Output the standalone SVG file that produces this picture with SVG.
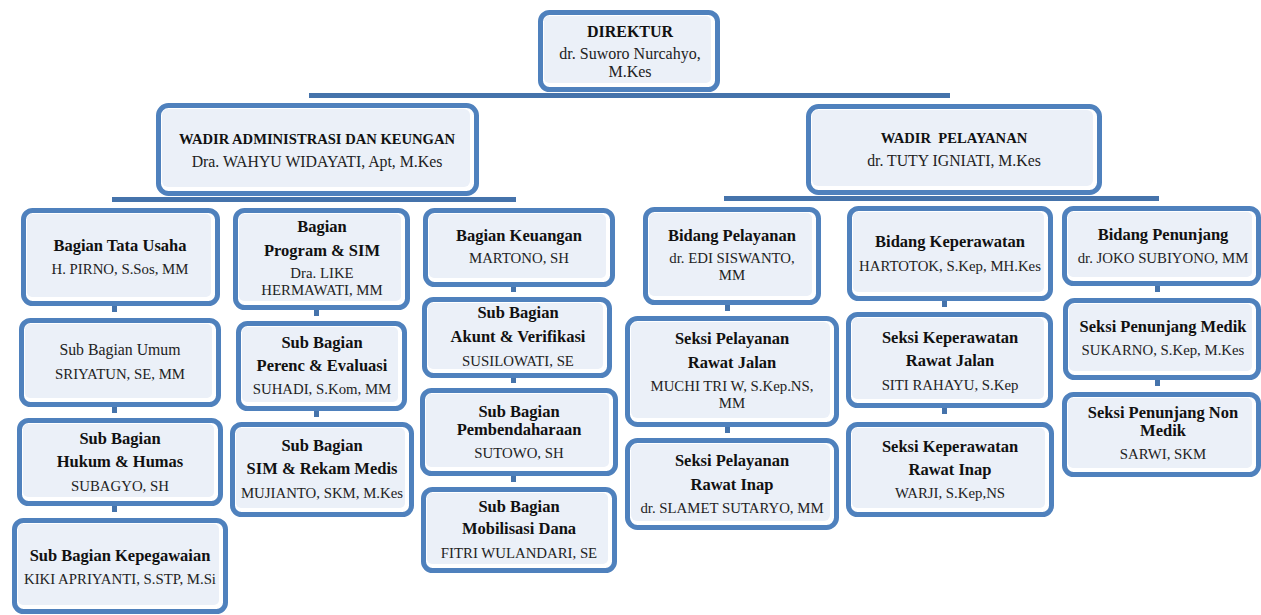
<svg xmlns="http://www.w3.org/2000/svg" width="1261" height="615" viewBox="0 0 1261 615">
<style>
.box{fill:#ffffff;stroke:#4F81BD;stroke-width:5}
.in{fill:#EBF0F8}
text{font-family:"Liberation Serif","Times New Roman",serif;text-anchor:middle}
.b{font-weight:bold;font-size:16.5px;fill:#111}
.r{font-size:14.8px;fill:#222}
.r16{font-size:15.8px;fill:#222}
.tb{font-weight:bold;font-size:14.6px;fill:#111;white-space:pre}
.tr{font-size:15.8px;fill:#222}
.db{font-weight:bold;font-size:16px;fill:#111}
.dr{font-size:16px;fill:#222}
.bar{fill:#4573AB}
.stub{fill:#4573AB}
</style>
<g id="connectors">
<rect class="bar" x="309" y="93" width="641" height="5"/>
<rect class="bar" x="112" y="197" width="404" height="5"/>
<rect class="bar" x="724" y="196" width="435" height="5"/>
<rect class="stub" x="112" y="306" width="5" height="6"/>
<rect class="stub" x="112" y="407" width="5" height="6"/>
<rect class="stub" x="112" y="506" width="5" height="6"/>
<rect class="stub" x="314" y="310" width="5" height="6"/>
<rect class="stub" x="314" y="411" width="5" height="6"/>
<rect class="stub" x="511" y="287" width="5" height="5"/>
<rect class="stub" x="511" y="378" width="5" height="5"/>
<rect class="stub" x="511" y="476" width="5" height="6"/>
<rect class="stub" x="725" y="305" width="5" height="6"/>
<rect class="stub" x="725" y="427" width="5" height="6"/>
<rect class="stub" x="942" y="301" width="5" height="6"/>
<rect class="stub" x="942" y="408" width="5" height="6"/>
<rect class="stub" x="1155" y="286" width="5" height="6"/>
<rect class="stub" x="1155" y="380" width="5" height="6"/>
</g>
<g id="direktur">
<rect class="box" x="540.5" y="12.5" width="177" height="77" rx="9"/>
<rect class="in" x="544" y="16" width="167" height="67" rx="5"/>
<text class="db" x="630" y="37">DIREKTUR</text>
<text class="dr" x="630" y="59">dr. Suworo Nurcahyo,</text>
<text class="dr" x="630" y="77">M.Kes</text>
</g>
<g id="wadir-adm">
<rect class="box" x="158.5" y="105.5" width="318" height="88" rx="10"/>
<rect class="in" x="162" y="109" width="308" height="78" rx="6"/>
<text class="tb" x="317" y="144">WADIR ADMINISTRASI DAN KEUNGAN</text>
<text class="tr" x="317" y="167">Dra. WAHYU WIDAYATI, Apt, M.Kes</text>
</g>
<g id="wadir-pel">
<rect class="box" x="808.5" y="106.5" width="291" height="86" rx="10"/>
<rect class="in" x="812" y="110" width="281" height="76" rx="6"/>
<text class="tb" x="954" y="143">WADIR  PELAYANAN</text>
<text class="tr" x="954" y="166">dr. TUTY IGNIATI, M.Kes</text>
</g>
<g id="tata-usaha">
<rect class="box" x="23.5" y="210.5" width="194" height="93" rx="9"/>
<rect class="in" x="27" y="214" width="184" height="83" rx="5"/>
<text class="b" x="120" y="251">Bagian Tata Usaha</text>
<text class="r" x="120" y="274">H. PIRNO, S.Sos, MM</text>
</g>
<g id="sub-umum">
<rect class="box" x="21.5" y="320.5" width="197" height="84" rx="9"/>
<rect class="in" x="25" y="324" width="187" height="74" rx="5"/>
<text class="r16" x="120" y="355">Sub Bagian Umum</text>
<text class="r" x="120" y="379">SRIYATUN, SE, MM</text>
</g>
<g id="sub-hukum">
<rect class="box" x="19.5" y="420.5" width="201" height="83" rx="9"/>
<rect class="in" x="23" y="424" width="191" height="73" rx="5"/>
<text class="b" x="120" y="444">Sub Bagian</text>
<text class="b" x="120" y="467">Hukum &amp; Humas</text>
<text class="r" x="120" y="491">SUBAGYO, SH</text>
</g>
<g id="sub-kepeg">
<rect class="box" x="14.5" y="520.5" width="211" height="91" rx="9"/>
<rect class="in" x="18" y="524" width="201" height="81" rx="5"/>
<text class="b" x="120" y="561">Sub Bagian Kepegawaian</text>
<text class="r" x="120" y="584">KIKI APRIYANTI, S.STP, M.Si</text>
</g>
<g id="program-sim">
<rect class="box" x="235.5" y="210.5" width="172" height="97" rx="9"/>
<rect class="in" x="239" y="214" width="162" height="87" rx="5"/>
<text class="b" x="322" y="232">Bagian</text>
<text class="b" x="322" y="256">Program &amp; SIM</text>
<text class="r" x="322" y="278">Dra. LIKE</text>
<text class="r" x="322" y="295">HERMAWATI, MM</text>
</g>
<g id="sub-perenc">
<rect class="box" x="238.5" y="323.5" width="166" height="85" rx="9"/>
<rect class="in" x="242" y="327" width="156" height="75" rx="5"/>
<text class="b" x="322" y="348">Sub Bagian</text>
<text class="b" x="322" y="371">Perenc &amp; Evaluasi</text>
<text class="r" x="322" y="394">SUHADI, S.Kom, MM</text>
</g>
<g id="sub-sim">
<rect class="box" x="232.5" y="424.5" width="179" height="90" rx="9"/>
<rect class="in" x="236" y="428" width="169" height="80" rx="5"/>
<text class="b" x="322" y="451">Sub Bagian</text>
<text class="b" x="322" y="474">SIM &amp; Rekam Medis</text>
<text class="r" x="322" y="498">MUJIANTO, SKM, M.Kes</text>
</g>
<g id="keuangan">
<rect class="box" x="425.5" y="210.5" width="187" height="74" rx="9"/>
<rect class="in" x="429" y="214" width="177" height="64" rx="5"/>
<text class="b" x="519" y="241">Bagian Keuangan</text>
<text class="r" x="519" y="263">MARTONO, SH</text>
</g>
<g id="sub-akunt">
<rect class="box" x="424.5" y="299.5" width="185" height="76" rx="9"/>
<rect class="in" x="428" y="303" width="175" height="66" rx="5"/>
<text class="b" x="518" y="318">Sub Bagian</text>
<text class="b" x="518" y="342">Akunt &amp; Verifikasi</text>
<text class="r" x="518" y="366">SUSILOWATI, SE</text>
</g>
<g id="sub-pembend">
<rect class="box" x="422.5" y="390.5" width="193" height="83" rx="9"/>
<rect class="in" x="426" y="394" width="183" height="73" rx="5"/>
<text class="b" x="519" y="417">Sub Bagian</text>
<text class="b" x="519" y="435">Pembendaharaan</text>
<text class="r" x="519" y="458">SUTOWO, SH</text>
</g>
<g id="sub-mobil">
<rect class="box" x="423.5" y="489.5" width="191" height="81" rx="9"/>
<rect class="in" x="427" y="493" width="181" height="71" rx="5"/>
<text class="b" x="519" y="512">Sub Bagian</text>
<text class="b" x="519" y="534">Mobilisasi Dana</text>
<text class="r" x="519" y="558">FITRI WULANDARI, SE</text>
</g>
<g id="bidang-pelayanan">
<rect class="box" x="645.5" y="209.5" width="173" height="93" rx="9"/>
<rect class="in" x="649" y="213" width="163" height="83" rx="5"/>
<text class="b" x="732" y="241">Bidang Pelayanan</text>
<text class="r" x="732" y="263">dr. EDI SISWANTO,</text>
<text class="r" x="732" y="280">MM</text>
</g>
<g id="seksi-pel-rj">
<rect class="box" x="627.5" y="318.5" width="209" height="106" rx="10"/>
<rect class="in" x="631" y="322" width="199" height="96" rx="6"/>
<text class="b" x="732" y="344">Seksi Pelayanan</text>
<text class="b" x="732" y="368">Rawat Jalan</text>
<text class="r" x="732" y="391">MUCHI TRI W, S.Kep.NS,</text>
<text class="r" x="732" y="408">MM</text>
</g>
<g id="seksi-pel-ri">
<rect class="box" x="627.5" y="440.5" width="209" height="87" rx="10"/>
<rect class="in" x="631" y="444" width="199" height="77" rx="6"/>
<text class="b" x="732" y="466">Seksi Pelayanan</text>
<text class="b" x="732" y="490">Rawat Inap</text>
<text class="r" x="732" y="513">dr. SLAMET SUTARYO, MM</text>
</g>
<g id="bidang-keperawatan">
<rect class="box" x="849.5" y="208.5" width="201" height="90" rx="9"/>
<rect class="in" x="853" y="212" width="191" height="80" rx="5"/>
<text class="b" x="950" y="247">Bidang Keperawatan</text>
<text class="r" x="950" y="271">HARTOTOK, S.Kep, MH.Kes</text>
</g>
<g id="seksi-kep-rj">
<rect class="box" x="848.5" y="314.5" width="202" height="91" rx="9"/>
<rect class="in" x="852" y="318" width="192" height="81" rx="5"/>
<text class="b" x="950" y="343">Seksi Keperawatan</text>
<text class="b" x="950" y="366">Rawat Jalan</text>
<text class="r" x="950" y="390">SITI RAHAYU, S.Kep</text>
</g>
<g id="seksi-kep-ri">
<rect class="box" x="848.5" y="424.5" width="203" height="90" rx="9"/>
<rect class="in" x="852" y="428" width="193" height="80" rx="5"/>
<text class="b" x="950" y="452">Seksi Keperawatan</text>
<text class="b" x="950" y="475">Rawat Inap</text>
<text class="r" x="950" y="498">WARJI, S.Kep,NS</text>
</g>
<g id="bidang-penunjang">
<rect class="box" x="1064.5" y="208.5" width="194" height="75" rx="9"/>
<rect class="in" x="1068" y="212" width="184" height="65" rx="5"/>
<text class="b" x="1163" y="240">Bidang Penunjang</text>
<text class="r" x="1163" y="263">dr. JOKO SUBIYONO, MM</text>
</g>
<g id="seksi-pen-medik">
<rect class="box" x="1065.5" y="300.5" width="193" height="77" rx="9"/>
<rect class="in" x="1069" y="304" width="183" height="67" rx="5"/>
<text class="b" x="1163" y="332">Seksi Penunjang Medik</text>
<text class="r" x="1163" y="355">SUKARNO, S.Kep, M.Kes</text>
</g>
<g id="seksi-pen-nonmedik">
<rect class="box" x="1064.5" y="394.5" width="194" height="80" rx="9"/>
<rect class="in" x="1068" y="398" width="184" height="70" rx="5"/>
<text class="b" x="1163" y="418">Seksi Penunjang Non</text>
<text class="b" x="1163" y="436">Medik</text>
<text class="r" x="1163" y="459">SARWI, SKM</text>
</g>
</svg>
